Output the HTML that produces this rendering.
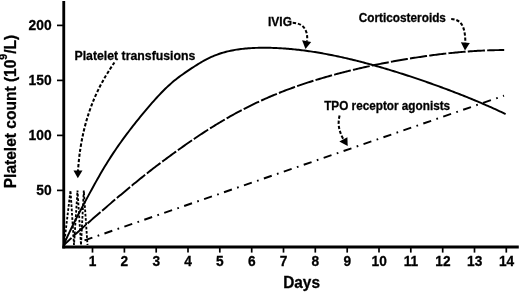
<!DOCTYPE html>
<html><head><meta charset="utf-8"><title>Platelet count</title><style>
html,body{margin:0;padding:0;background:#fff}
svg{display:block}
#chart{filter:blur(0.35px)}
text{font-family:"Liberation Sans",sans-serif;font-weight:bold;fill:#000;stroke:#000;stroke-width:0.28px}
</style></head><body>
<svg width="520" height="292" viewBox="0 0 520 292">
<rect width="520" height="292" fill="#fff"/>
<g id="chart">
<!-- axes -->
<line x1="63.75" y1="1" x2="63.75" y2="248.4" stroke="#000" stroke-width="2.85"/>
<line x1="62.3" y1="246.95" x2="518.8" y2="246.95" stroke="#000" stroke-width="3.05"/>
<g stroke="#000" stroke-width="1.7">
<line x1="57" y1="25.4" x2="63" y2="25.4"/>
<line x1="57" y1="80.4" x2="63" y2="80.4"/>
<line x1="57" y1="135.4" x2="63" y2="135.4"/>
<line x1="57" y1="190.4" x2="63" y2="190.4"/>
<line x1="92.5" y1="247" x2="92.5" y2="252.6"/><line x1="124.4" y1="247" x2="124.4" y2="252.6"/><line x1="156.2" y1="247" x2="156.2" y2="252.6"/><line x1="188.0" y1="247" x2="188.0" y2="252.6"/><line x1="219.8" y1="247" x2="219.8" y2="252.6"/><line x1="251.7" y1="247" x2="251.7" y2="252.6"/><line x1="283.5" y1="247" x2="283.5" y2="252.6"/><line x1="315.3" y1="247" x2="315.3" y2="252.6"/><line x1="347.2" y1="247" x2="347.2" y2="252.6"/><line x1="379.0" y1="247" x2="379.0" y2="252.6"/><line x1="410.8" y1="247" x2="410.8" y2="252.6"/><line x1="442.7" y1="247" x2="442.7" y2="252.6"/><line x1="474.5" y1="247" x2="474.5" y2="252.6"/><line x1="506.3" y1="247" x2="506.3" y2="252.6"/>
</g>
<text transform="translate(51.6 30.4) scale(1 1.04)" font-size="13.8" text-anchor="end">200</text>
<text transform="translate(51.6 85.4) scale(1 1.04)" font-size="13.8" text-anchor="end">150</text>
<text transform="translate(51.6 140.4) scale(1 1.04)" font-size="13.8" text-anchor="end">100</text>
<text transform="translate(51.6 195.4) scale(1 1.04)" font-size="13.8" text-anchor="end">50</text>
<text transform="translate(92.5 266.2) scale(1 1.04)" font-size="13.7" text-anchor="middle">1</text>
<text transform="translate(124.4 266.2) scale(1 1.04)" font-size="13.7" text-anchor="middle">2</text>
<text transform="translate(156.2 266.2) scale(1 1.04)" font-size="13.7" text-anchor="middle">3</text>
<text transform="translate(188.0 266.2) scale(1 1.04)" font-size="13.7" text-anchor="middle">4</text>
<text transform="translate(219.8 266.2) scale(1 1.04)" font-size="13.7" text-anchor="middle">5</text>
<text transform="translate(251.7 266.2) scale(1 1.04)" font-size="13.7" text-anchor="middle">6</text>
<text transform="translate(283.5 266.2) scale(1 1.04)" font-size="13.7" text-anchor="middle">7</text>
<text transform="translate(315.3 266.2) scale(1 1.04)" font-size="13.7" text-anchor="middle">8</text>
<text transform="translate(347.2 266.2) scale(1 1.04)" font-size="13.7" text-anchor="middle">9</text>
<text transform="translate(379.2 266.2) scale(1 1.04)" font-size="13.7" text-anchor="middle">10</text>
<text transform="translate(411.0 266.2) scale(1 1.04)" font-size="13.7" text-anchor="middle">11</text>
<text transform="translate(442.9 266.2) scale(1 1.04)" font-size="13.7" text-anchor="middle">12</text>
<text transform="translate(474.7 266.2) scale(1 1.04)" font-size="13.7" text-anchor="middle">13</text>
<text transform="translate(506.5 266.2) scale(1 1.04)" font-size="13.7" text-anchor="middle">14</text>
<text transform="translate(301.6 287.7) scale(1 1.035)" font-size="15.4" text-anchor="middle">Days</text>
<text transform="translate(15.9,188.3) rotate(-90) scale(1 1.035)" font-size="15.55">Platelet count (10<tspan font-size="10.5" dy="-8.2">9</tspan><tspan dy="8.2">/L)</tspan></text>
<text transform="translate(74.5 59.7) scale(1 1.02)" font-size="12.3" text-anchor="start">Platelet transfusions</text>
<text transform="translate(268.0 25.6) scale(1 1.02)" font-size="12.0" text-anchor="start">IVIG</text>
<text transform="translate(358.8 21.7) scale(1 1.02)" font-size="11.8" text-anchor="start">Corticosteroids</text>
<text transform="translate(324.2 109.6) scale(1 1.02)" font-size="11.75" text-anchor="start">TPO receptor agonists</text>
<!-- curves -->
<g fill="none" stroke="#000" stroke-width="1.95">
<path d="M63.50,245.50 L64.98,242.05 L66.46,238.71 L67.94,235.46 L69.41,232.30 L70.89,229.21 L72.37,226.19 L73.85,223.23 L75.33,220.31 L76.81,217.42 L78.29,214.57 L79.76,211.75 L81.24,208.95 L82.72,206.16 L84.20,203.39 L85.68,200.63 L87.16,197.88 L88.64,195.14 L90.11,192.41 L91.59,189.69 L93.07,186.99 L94.55,184.31 L96.03,181.65 L97.51,179.02 L98.99,176.41 L100.46,173.84 L101.94,171.30 L103.42,168.80 L104.90,166.33 L106.38,163.91 L107.86,161.52 L109.34,159.18 L110.82,156.87 L112.29,154.60 L113.77,152.37 L115.25,150.18 L116.73,148.02 L118.21,145.89 L119.69,143.79 L121.17,141.72 L122.64,139.67 L124.12,137.65 L125.60,135.65 L127.08,133.68 L128.56,131.72 L130.04,129.78 L131.52,127.86 L132.99,125.96 L134.47,124.08 L135.95,122.21 L137.43,120.35 L138.91,118.52 L140.39,116.69 L141.87,114.89 L143.34,113.10 L144.82,111.32 L146.30,109.56 L147.78,107.82 L149.26,106.09 L150.74,104.38 L152.22,102.69 L153.69,101.03 L155.17,99.38 L156.65,97.75 L158.13,96.15 L159.61,94.58 L161.09,93.03 L162.57,91.51 L164.04,90.02 L165.52,88.57 L167.00,87.14 L168.48,85.76 L169.96,84.41 L171.44,83.11 L172.92,81.84 L174.39,80.61 L175.87,79.42 L177.35,78.27 L178.83,77.14 L180.31,76.05 L181.79,74.98 L183.27,73.93 L184.74,72.90 L186.22,71.88 L187.70,70.88 L189.18,69.88 L190.66,68.89 L192.14,67.92 L193.62,66.95 L195.09,66.00 L196.57,65.06 L198.05,64.14 L199.53,63.25 L201.01,62.37 L202.49,61.51 L203.97,60.69 L205.45,59.88 L206.92,59.11 L208.40,58.37 L209.88,57.66 L211.36,56.97 L212.84,56.32 L214.32,55.70 L215.80,55.11 L217.27,54.55 L218.75,54.02 L220.23,53.52 L221.71,53.05 L223.19,52.60 L224.67,52.19 L226.15,51.79 L227.62,51.42 L229.10,51.08 L230.58,50.75 L232.06,50.45 L233.54,50.17 L235.02,49.91 L236.50,49.66 L237.97,49.44 L239.45,49.23 L240.93,49.04 L242.41,48.86 L243.89,48.70 L245.37,48.56 L246.85,48.43 L248.32,48.31 L249.80,48.20 L251.28,48.11 L252.76,48.03 L254.24,47.96 L255.72,47.90 L257.20,47.85 L258.67,47.81 L260.15,47.78 L261.63,47.77 L263.11,47.76 L264.59,47.75 L266.07,47.76 L267.55,47.78 L269.02,47.80 L270.50,47.83 L271.98,47.87 L273.46,47.92 L274.94,47.98 L276.42,48.04 L277.90,48.11 L279.37,48.19 L280.85,48.27 L282.33,48.36 L283.81,48.46 L285.29,48.57 L286.77,48.68 L288.25,48.80 L289.73,48.93 L291.20,49.07 L292.68,49.21 L294.16,49.35 L295.64,49.51 L297.12,49.67 L298.60,49.84 L300.08,50.01 L301.55,50.19 L303.03,50.38 L304.51,50.57 L305.99,50.77 L307.47,50.97 L308.95,51.18 L310.43,51.40 L311.90,51.62 L313.38,51.85 L314.86,52.08 L316.34,52.32 L317.82,52.56 L319.30,52.81 L320.78,53.07 L322.25,53.33 L323.73,53.59 L325.21,53.87 L326.69,54.14 L328.17,54.42 L329.65,54.71 L331.13,55.00 L332.60,55.30 L334.08,55.60 L335.56,55.90 L337.04,56.21 L338.52,56.53 L340.00,56.85 L341.48,57.17 L342.95,57.50 L344.43,57.84 L345.91,58.17 L347.39,58.52 L348.87,58.86 L350.35,59.21 L351.83,59.57 L353.30,59.93 L354.78,60.29 L356.26,60.66 L357.74,61.03 L359.22,61.40 L360.70,61.78 L362.18,62.16 L363.65,62.55 L365.13,62.94 L366.61,63.33 L368.09,63.73 L369.57,64.13 L371.05,64.54 L372.53,64.95 L374.01,65.36 L375.48,65.77 L376.96,66.19 L378.44,66.61 L379.92,67.04 L381.40,67.47 L382.88,67.90 L384.36,68.34 L385.83,68.77 L387.31,69.22 L388.79,69.66 L390.27,70.11 L391.75,70.56 L393.23,71.01 L394.71,71.47 L396.18,71.93 L397.66,72.39 L399.14,72.85 L400.62,73.32 L402.10,73.79 L403.58,74.27 L405.06,74.74 L406.53,75.22 L408.01,75.70 L409.49,76.19 L410.97,76.67 L412.45,77.16 L413.93,77.66 L415.41,78.15 L416.88,78.65 L418.36,79.15 L419.84,79.65 L421.32,80.16 L422.80,80.67 L424.28,81.18 L425.76,81.69 L427.23,82.21 L428.71,82.73 L430.19,83.25 L431.67,83.77 L433.15,84.30 L434.63,84.83 L436.11,85.36 L437.58,85.90 L439.06,86.43 L440.54,86.98 L442.02,87.52 L443.50,88.06 L444.98,88.61 L446.46,89.17 L447.93,89.72 L449.41,90.28 L450.89,90.84 L452.37,91.40 L453.85,91.97 L455.33,92.54 L456.81,93.11 L458.28,93.68 L459.76,94.26 L461.24,94.84 L462.72,95.43 L464.20,96.02 L465.68,96.61 L467.16,97.20 L468.64,97.80 L470.11,98.40 L471.59,99.01 L473.07,99.62 L474.55,100.23 L476.03,100.85 L477.51,101.47 L478.99,102.09 L480.46,102.72 L481.94,103.35 L483.42,103.98 L484.90,104.62 L486.38,105.27 L487.86,105.91 L489.34,106.57 L490.81,107.22 L492.29,107.88 L493.77,108.55 L495.25,109.22 L496.73,109.89 L498.21,110.57 L499.69,111.26 L501.16,111.94 L502.64,112.64 L504.12,113.34 L505.60,114.04"/>
<path d="M63.50,245.50 L64.97,244.07 L66.45,242.65 L67.92,241.25 L69.40,239.86 L70.87,238.47 L72.34,237.10 L73.82,235.73 L75.29,234.38 L76.77,233.03 L78.24,231.69 L79.71,230.35 L81.19,229.03 L82.66,227.71 L84.13,226.39 L85.61,225.08 L87.08,223.77 L88.56,222.47 L90.03,221.18 L91.50,219.89 L92.98,218.60 L94.45,217.31 L95.93,216.03 L97.40,214.76 L98.87,213.48 L100.35,212.21 L101.82,210.94 L103.30,209.67 L104.77,208.40 L106.24,207.14 L107.72,205.88 L109.19,204.62 L110.67,203.37 L112.14,202.11 L113.61,200.86 L115.09,199.61 L116.56,198.36 L118.03,197.11 L119.51,195.87 L120.98,194.63 L122.46,193.39 L123.93,192.16 L125.40,190.92 L126.88,189.69 L128.35,188.47 L129.83,187.24 L131.30,186.02 L132.77,184.81 L134.25,183.60 L135.72,182.39 L137.20,181.19 L138.67,179.99 L140.14,178.80 L141.62,177.62 L143.09,176.44 L144.57,175.27 L146.04,174.10 L147.51,172.94 L148.99,171.78 L150.46,170.63 L151.93,169.49 L153.41,168.35 L154.88,167.22 L156.36,166.09 L157.83,164.97 L159.30,163.85 L160.78,162.74 L162.25,161.64 L163.73,160.54 L165.20,159.44 L166.67,158.35 L168.15,157.27 L169.62,156.19 L171.10,155.11 L172.57,154.03 L174.04,152.96 L175.52,151.90 L176.99,150.84 L178.47,149.78 L179.94,148.73 L181.41,147.68 L182.89,146.64 L184.36,145.60 L185.83,144.57 L187.31,143.54 L188.78,142.52 L190.26,141.50 L191.73,140.49 L193.20,139.49 L194.68,138.49 L196.15,137.49 L197.63,136.51 L199.10,135.52 L200.57,134.55 L202.05,133.58 L203.52,132.62 L205.00,131.66 L206.47,130.71 L207.94,129.77 L209.42,128.83 L210.89,127.91 L212.37,126.98 L213.84,126.07 L215.31,125.16 L216.79,124.26 L218.26,123.36 L219.73,122.48 L221.21,121.60 L222.68,120.72 L224.16,119.86 L225.63,119.00 L227.10,118.15 L228.58,117.31 L230.05,116.47 L231.53,115.65 L233.00,114.82 L234.47,114.01 L235.95,113.21 L237.42,112.41 L238.90,111.62 L240.37,110.84 L241.84,110.06 L243.32,109.29 L244.79,108.53 L246.27,107.78 L247.74,107.04 L249.21,106.30 L250.69,105.57 L252.16,104.85 L253.63,104.13 L255.11,103.43 L256.58,102.73 L258.06,102.03 L259.53,101.35 L261.00,100.67 L262.48,100.00 L263.95,99.34 L265.43,98.68 L266.90,98.03 L268.37,97.39 L269.85,96.75 L271.32,96.13 L272.80,95.50 L274.27,94.89 L275.74,94.28 L277.22,93.68 L278.69,93.09 L280.17,92.50 L281.64,91.92 L283.11,91.34 L284.59,90.77 L286.06,90.21 L287.53,89.65 L289.01,89.10 L290.48,88.55 L291.96,88.02 L293.43,87.48 L294.90,86.95 L296.38,86.43 L297.85,85.91 L299.33,85.40 L300.80,84.89 L302.27,84.39 L303.75,83.90 L305.22,83.41 L306.70,82.92 L308.17,82.44 L309.64,81.96 L311.12,81.49 L312.59,81.03 L314.07,80.57 L315.54,80.11 L317.01,79.66 L318.49,79.21 L319.96,78.77 L321.43,78.33 L322.91,77.89 L324.38,77.46 L325.86,77.04 L327.33,76.61 L328.80,76.20 L330.28,75.78 L331.75,75.37 L333.23,74.97 L334.70,74.57 L336.17,74.17 L337.65,73.78 L339.12,73.39 L340.60,73.00 L342.07,72.62 L343.54,72.24 L345.02,71.86 L346.49,71.49 L347.97,71.13 L349.44,70.76 L350.91,70.40 L352.39,70.04 L353.86,69.69 L355.33,69.34 L356.81,68.99 L358.28,68.65 L359.76,68.31 L361.23,67.97 L362.70,67.63 L364.18,67.30 L365.65,66.97 L367.13,66.65 L368.60,66.33 L370.07,66.01 L371.55,65.69 L373.02,65.38 L374.50,65.07 L375.97,64.77 L377.44,64.46 L378.92,64.16 L380.39,63.86 L381.87,63.57 L383.34,63.28 L384.81,62.99 L386.29,62.70 L387.76,62.42 L389.23,62.14 L390.71,61.86 L392.18,61.59 L393.66,61.32 L395.13,61.05 L396.60,60.78 L398.08,60.52 L399.55,60.26 L401.03,60.00 L402.50,59.75 L403.97,59.50 L405.45,59.25 L406.92,59.00 L408.40,58.76 L409.87,58.52 L411.34,58.28 L412.82,58.05 L414.29,57.81 L415.77,57.59 L417.24,57.36 L418.71,57.14 L420.19,56.92 L421.66,56.70 L423.13,56.49 L424.61,56.27 L426.08,56.07 L427.56,55.86 L429.03,55.66 L430.50,55.46 L431.98,55.26 L433.45,55.07 L434.93,54.88 L436.40,54.69 L437.87,54.51 L439.35,54.33 L440.82,54.15 L442.30,53.97 L443.77,53.80 L445.24,53.64 L446.72,53.47 L448.19,53.31 L449.67,53.15 L451.14,53.00 L452.61,52.85 L454.09,52.70 L455.56,52.55 L457.03,52.41 L458.51,52.28 L459.98,52.14 L461.46,52.01 L462.93,51.89 L464.40,51.77 L465.88,51.65 L467.35,51.53 L468.83,51.42 L470.30,51.31 L471.77,51.21 L473.25,51.11 L474.72,51.02 L476.20,50.93 L477.67,50.84 L479.14,50.76 L480.62,50.68 L482.09,50.61 L483.57,50.54 L485.04,50.47 L486.51,50.41 L487.99,50.36 L489.46,50.31 L490.93,50.26 L492.41,50.22 L493.88,50.18 L495.36,50.15 L496.83,50.12 L498.30,50.10 L499.78,50.09 L501.25,50.07 L502.73,50.07 L504.20,50.07" stroke-dasharray="17.2 2.20" stroke-dashoffset="6.18"/>
<path d="M84.0,240.54 L504.0,95.68" stroke-dasharray="8.3 5.54 1.7 5.54" stroke-dashoffset="20.53"/>
</g>
<!-- transfusion peaks -->
<path d="M64,245 L70.5,190.5 L74,245 L77.5,190.5 L81,245 L83.8,190.5 L87.5,245" fill="none" stroke="#000" stroke-width="1.85" stroke-dasharray="2.6 1.7"/>
<!-- arrows -->
<g fill="none" stroke="#000" stroke-width="2.05" stroke-dasharray="3.3 1.9">
<path d="M114.4,62.5 C105.8,75.5 81.9,108.5 78,171"/>
<path d="M292.7,22.8 C302,23 308.5,29 307,41.5"/>
<path d="M451.2,19 C459.5,19.5 465.5,24 465.3,43"/>
<path d="M339.6,115.5 C337.8,123 338.3,130 343.5,139.5"/>
</g>
<g fill="#000">
<polygon points="73.5,170.5 82.5,170.5 77.8,178.2"/>
<polygon points="302.1,40.3 311.2,41.9 305.5,48.9"/>
<polygon points="460.9,42.3 469.8,43.0 465.0,50.4"/>
<polygon points="339.3,141.5 347.4,137.3 347.7,146.1"/>
</g>
</g>
</svg>
</body></html>
